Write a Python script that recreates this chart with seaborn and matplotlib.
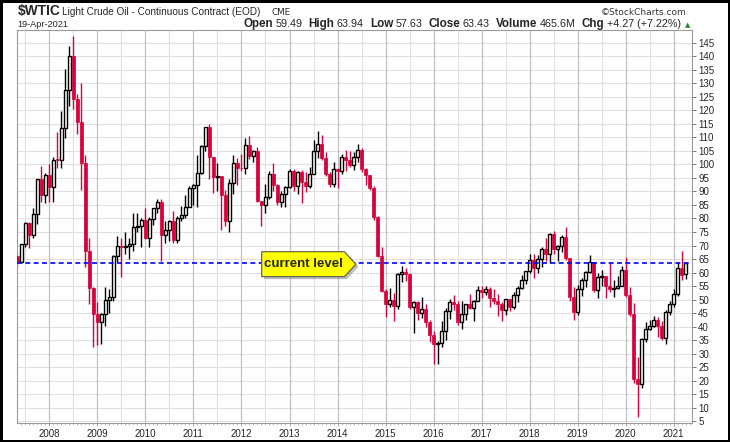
import numpy as np
import pandas as pd
import matplotlib.pyplot as plt
import seaborn as sns
from matplotlib.patches import Polygon

W, H = 730, 442

# monthly candles, May 2007 .. Apr 2021
months = pd.period_range('2007-05', '2021-04', freq='M')

opens = [
    66.0, 64.0, 70.5, 78.2, 74.0, 81.7, 94.5, 88.7,  # 2007
    96.0, 91.8, 101.8, 101.6, 113.5, 127.4, 140.0, 124.1, 115.5, 100.6, 67.8, 54.4,
    44.6, 41.7, 44.8, 49.7, 51.1, 66.3, 69.9, 69.5, 70.0, 70.6, 77.0, 77.3,
    79.4, 72.9, 79.7, 83.8, 86.2, 74.0, 75.6, 78.9, 71.9, 80.0, 81.4, 84.1,
    91.4, 92.2, 97.0, 106.7, 113.9, 102.7, 95.4, 95.7, 88.8, 79.2, 93.2, 100.4,
    98.8, 98.5, 107.1, 103.0, 104.9, 86.5, 85.0, 88.1, 96.5, 92.2, 86.2, 88.9,
    91.8, 97.5, 92.1, 97.2, 93.5, 92.0, 96.6, 105.0, 107.7, 102.3, 96.4, 92.7,
    98.4, 97.5, 102.6, 101.6, 99.7, 102.7, 105.4, 98.2, 96.0, 91.2, 80.5, 66.2,
    53.3, 48.2, 49.8, 47.6, 59.6, 60.3, 59.5, 47.1, 49.2, 45.1, 46.6, 41.7,
    37.0, 33.6, 33.8, 38.3, 45.9, 49.1, 48.3, 41.6, 44.7, 48.2, 46.9, 49.4,
    53.7, 52.8, 54.0, 50.6, 49.3, 48.3, 46.0, 50.2, 47.2, 51.7, 54.4, 57.4,
    60.4, 64.7, 61.6, 64.9, 68.6, 67.0, 74.2, 68.8, 69.8, 73.3, 65.3, 50.9,
    45.4, 53.8, 57.2, 60.1, 63.9, 53.5, 58.5, 58.6, 55.1, 54.1, 54.2, 55.2,
    61.1, 51.6, 44.8, 20.5, 18.8, 35.5, 39.3, 40.3, 42.6, 40.2, 35.8, 45.3,
    48.5, 52.2, 61.5, 59.5,  # 2021
]
highs = [
    66.7, 70.7, 78.8, 78.8, 83.9, 94.7, 99.3, 97.0,
    100.1, 102.6, 111.8, 119.9, 135.1, 143.7, 147.3, 126.0, 130.0, 103.5, 72.9, 54.8,
    49.0, 45.0, 54.7, 54.0, 66.5, 73.4, 72.7, 75.0, 72.9, 82.0, 82.0, 80.0,
    83.9, 80.5, 83.8, 87.2, 87.2, 79.2, 79.4, 82.9, 81.0, 84.6, 88.6, 92.1,
    92.6, 103.4, 107.0, 113.9, 114.8, 102.7, 100.6, 95.7, 90.5, 94.7, 103.4, 102.4,
    103.7, 109.8, 110.6, 105.2, 106.4, 86.5, 92.9, 97.4, 100.4, 92.9, 90.1, 91.9,
    98.2, 98.2, 97.6, 97.8, 97.3, 99.0, 108.9, 112.2, 110.7, 104.5, 97.2, 100.8,
    98.8, 103.7, 105.2, 104.9, 104.5, 107.7, 106.0, 98.7, 96.0, 92.0, 81.0, 69.4,
    54.0, 54.2, 52.5, 59.9, 62.6, 61.8, 59.7, 49.3, 49.5, 50.9, 48.4, 42.6,
    38.4, 34.8, 41.9, 46.8, 50.2, 51.7, 49.4, 49.4, 48.4, 51.9, 49.9, 55.2,
    55.2, 54.9, 54.6, 53.8, 52.0, 49.0, 50.4, 50.2, 52.9, 54.9, 59.1, 60.5,
    66.7, 66.7, 66.6, 69.6, 72.9, 74.5, 75.3, 70.3, 73.8, 76.9, 65.5, 54.6,
    55.4, 57.8, 60.7, 66.6, 63.9, 59.9, 60.9, 58.6, 63.4, 57.2, 58.8, 62.3,
    65.7, 54.7, 48.7, 28.6, 35.7, 41.6, 42.5, 43.8, 43.4, 41.9, 46.3, 49.4,
    53.9, 63.8, 68.0, 63.9,
]
lows = [
    61.5, 63.6, 69.6, 69.0, 72.9, 78.0, 86.0, 85.9,
    86.1, 86.1, 98.7, 98.7, 109.9, 121.6, 120.4, 111.3, 90.5, 62.0, 48.3, 32.4,
    33.2, 33.6, 40.3, 45.0, 49.3, 64.0, 58.3, 66.7, 65.1, 68.0, 75.1, 69.5,
    72.4, 69.5, 77.7, 82.0, 64.2, 70.8, 71.6, 70.8, 71.0, 79.2, 80.3, 84.1,
    85.1, 84.4, 96.5, 105.0, 94.6, 89.6, 90.3, 75.7, 77.1, 74.9, 89.2, 92.5,
    97.5, 96.5, 102.1, 101.0, 86.0, 77.3, 82.1, 87.2, 90.0, 84.9, 84.1, 84.1,
    91.3, 90.3, 89.0, 85.6, 89.9, 91.1, 96.4, 102.2, 101.6, 95.7, 91.8, 91.8,
    91.2, 96.4, 97.4, 99.0, 98.0, 101.0, 97.2, 92.5, 90.4, 79.4, 65.7, 52.7,
    43.6, 47.4, 42.0, 46.7, 56.5, 57.0, 46.7, 37.8, 42.6, 43.2, 39.9, 34.5,
    26.2, 26.1, 32.6, 35.2, 43.0, 46.0, 40.6, 39.2, 42.5, 46.6, 42.2, 49.4,
    50.7, 51.6, 47.1, 48.2, 43.8, 42.1, 44.4, 45.6, 46.5, 49.1, 54.1, 55.8,
    59.9, 58.1, 59.9, 62.0, 64.3, 63.6, 67.0, 64.4, 67.5, 64.8, 49.4, 42.4,
    44.4, 51.2, 54.5, 60.0, 52.8, 50.6, 55.0, 50.5, 52.8, 50.9, 54.0, 55.0,
    51.1, 44.0, 19.3, 6.5, 17.3, 34.4, 38.7, 40.0, 36.1, 34.9, 33.6, 44.2,
    47.2, 51.3, 57.3, 57.6,
]
closes = [
    64.0, 70.7, 78.2, 74.0, 81.7, 94.5, 88.7, 96.0,
    91.8, 101.8, 101.6, 113.5, 127.4, 140.0, 124.1, 115.5, 100.6, 67.8, 54.4, 44.6,
    41.7, 44.8, 49.7, 51.1, 66.3, 69.9, 69.5, 70.0, 70.6, 77.0, 77.3, 79.4,
    72.9, 79.7, 83.8, 86.2, 74.0, 75.6, 78.9, 71.9, 80.0, 81.4, 84.1, 91.4,
    92.2, 97.0, 106.7, 113.9, 102.7, 95.4, 95.7, 88.8, 79.2, 93.2, 100.4, 98.8,
    98.5, 107.1, 103.0, 104.9, 86.5, 85.0, 88.1, 96.5, 92.2, 86.2, 88.9, 91.8,
    97.5, 92.1, 97.2, 93.5, 92.0, 96.6, 105.0, 107.7, 102.3, 96.4, 92.7, 98.4,
    97.5, 102.6, 101.6, 99.7, 102.7, 105.4, 98.2, 96.0, 91.2, 80.5, 66.2, 53.3,
    48.2, 49.8, 47.6, 59.6, 60.3, 59.5, 47.1, 49.2, 45.1, 46.6, 41.7, 37.0,
    33.6, 33.8, 38.3, 45.9, 49.1, 48.3, 41.6, 44.7, 48.2, 46.9, 49.4, 53.7,
    52.8, 54.0, 50.6, 49.3, 48.3, 46.0, 50.2, 47.2, 51.7, 54.4, 57.4, 60.4,
    64.7, 61.6, 64.9, 68.6, 67.0, 74.2, 68.8, 69.8, 73.3, 65.3, 50.9, 45.4,
    53.8, 57.2, 60.1, 63.9, 53.5, 58.5, 58.6, 55.1, 54.1, 54.2, 55.2, 61.1,
    51.6, 44.8, 20.5, 18.8, 35.5, 39.3, 40.3, 42.6, 40.2, 35.8, 45.3, 48.5,
    52.2, 61.5, 59.2, 63.43,
]
years = list(range(2008, 2022))
current_level = 63.43

RED = '#d6003b'

sns.set_style('white')
plt.rcParams['font.family'] = ['Liberation Sans', 'DejaVu Sans']

df = pd.DataFrame({'open': opens, 'high': highs, 'low': lows, 'close': closes})
# x = months counted from Jan 2008
df['x'] = (months.year - 2008) * 12 + months.month - 1
df['up'] = df['close'] >= df['open']

fig = plt.figure(figsize=(W / 100, H / 100), dpi=100)
ax = fig.add_axes([17.3 / W, 1 - 423 / H, (692 - 17.3) / W, (423 - 30) / H])

# grid
for v in range(5, 150, 5):
    ax.axhline(v, color='#e0e0e0', lw=0.8, zorder=0)
for k in range(-6, 161, 12):
    ax.axvline(k, color='#e0e0e0', lw=0.8, zorder=0)
for k in range(0, 161, 12):
    ax.axvline(k, color='#c0c0c0', lw=0.9, zorder=0)

# candles
up = df[df['up']]
dn = df[~df['up']]
ax.vlines(up['x'], up['low'], up['high'], color='black', lw=1.0, zorder=2)
ax.vlines(dn['x'], dn['low'], dn['high'], color=RED, lw=1.0, zorder=2)
ax.bar(up['x'], np.maximum(up['close'] - up['open'], 0.3), bottom=up['open'],
       width=0.7, facecolor='white', edgecolor='black', lw=1.0, zorder=3)
ax.bar(dn['x'], np.maximum(dn['open'] - dn['close'], 0.3), bottom=dn['close'],
       width=0.82, facecolor=RED, edgecolor=RED, lw=0.5, zorder=3)

ax.axhline(current_level, color='#0000ff', lw=1.2, ls=(0, (3, 2)), zorder=4)

ax.set_xlim(-8.0, 160.55)
ax.set_ylim(4.36, 149.7)
ax.yaxis.tick_right()
ax.set_yticks(range(5, 150, 5))
ax.set_xticks(range(0, 157, 12))
ax.set_xticklabels([str(y) for y in years])
ax.set_xticks(range(-7, 161), minor=True)
ax.tick_params(axis='y', which='major', right=True, length=3, width=0.7, color='#777777',
               labelsize=7, pad=1.5, direction='out')
ax.tick_params(axis='x', which='major', bottom=True, length=2, width=0.6, color='#999999',
               labelsize=7, pad=2.5, direction='out')
ax.tick_params(axis='x', which='minor', bottom=True, length=1.2, width=0.5, color='#aaaaaa',
               direction='out')
for s in ax.spines.values():
    s.set_color('#9a9a9a')
    s.set_linewidth(0.8)

# callout box
def fx(px):
    return px / W

def fy(py):
    return 1 - py / H

pts = [(261.7, 251.7), (344.3, 251.7), (356, 264.2), (344.3, 276.7), (261.7, 276.7)]
shadow = Polygon([(fx(x + 2.5), fy(y + 2.5)) for x, y in pts], closed=True,
                 transform=fig.transFigure, facecolor='#8c8c8c', alpha=0.55, edgecolor='none')
box = Polygon([(fx(x), fy(y)) for x, y in pts], closed=True,
              transform=fig.transFigure, facecolor='#ffff00', edgecolor='#555555', lw=0.8)
fig.add_artist(shadow)
fig.add_artist(box)
fig.text(fx(303), fy(264.2), 'current level', fontsize=9.5, fontweight='bold',
         ha='center', va='center')

# header
rend = fig.canvas.get_renderer()

def put_row(parts, x, y, scale=1.0):
    texts = []
    for s, bold, size, gap in parts:
        t = fig.text(fx(x), fy(y), s, fontsize=size * scale,
                     fontweight='bold' if bold else 'normal', va='baseline', ha='left')
        texts.append(t)
        x += t.get_window_extent(rend).width + gap
    return x, texts

put_row([('$WTIC', True, 9.9, 2),
         ('Light Crude Oil - Continuous Contract (EOD)', False, 7.2, 4)], 17.3, 15)
fig.text(fx(272), fy(15), 'CME', fontsize=6.3, family='DejaVu Sans', va='baseline')
fig.text(fx(687), fy(15), '\u00a9StockCharts.com', fontsize=6.5, family='DejaVu Sans',
         color='#333333', va='baseline', ha='right')

fig.text(fx(17.3), fy(27.3), '19-Apr-2021', fontsize=6.6, va='baseline')
stats = [('Open', True), ('59.49', False), ('High', True), ('63.94', False),
         ('Low', True), ('57.63', False), ('Close', True), ('63.43', False),
         ('Volume', True), ('465.6M', False), ('Chg', True), ('+4.27 (+7.22%)', False)]
parts = [(s, b, 7.6 if b else 7.0, 2.5 if b else 6) for s, b in stats]
# fit the stats row between x=243 and x=683, like the reference
end, texts = put_row(parts, 243.3, 27.3)
for t in texts:
    t.remove()
put_row(parts, 243.3, 27.3, scale=(683 - 243.3) / (end - 6 - 243.3))
fig.text(fx(685), fy(27.0), '\u25b2', fontsize=5, color='#2e7d32', family='DejaVu Sans',
         va='baseline')

fig.patch.set_edgecolor('black')
fig.patch.set_linewidth(2.5)
fig.savefig('out.png', dpi=100, facecolor='white', edgecolor='black')
